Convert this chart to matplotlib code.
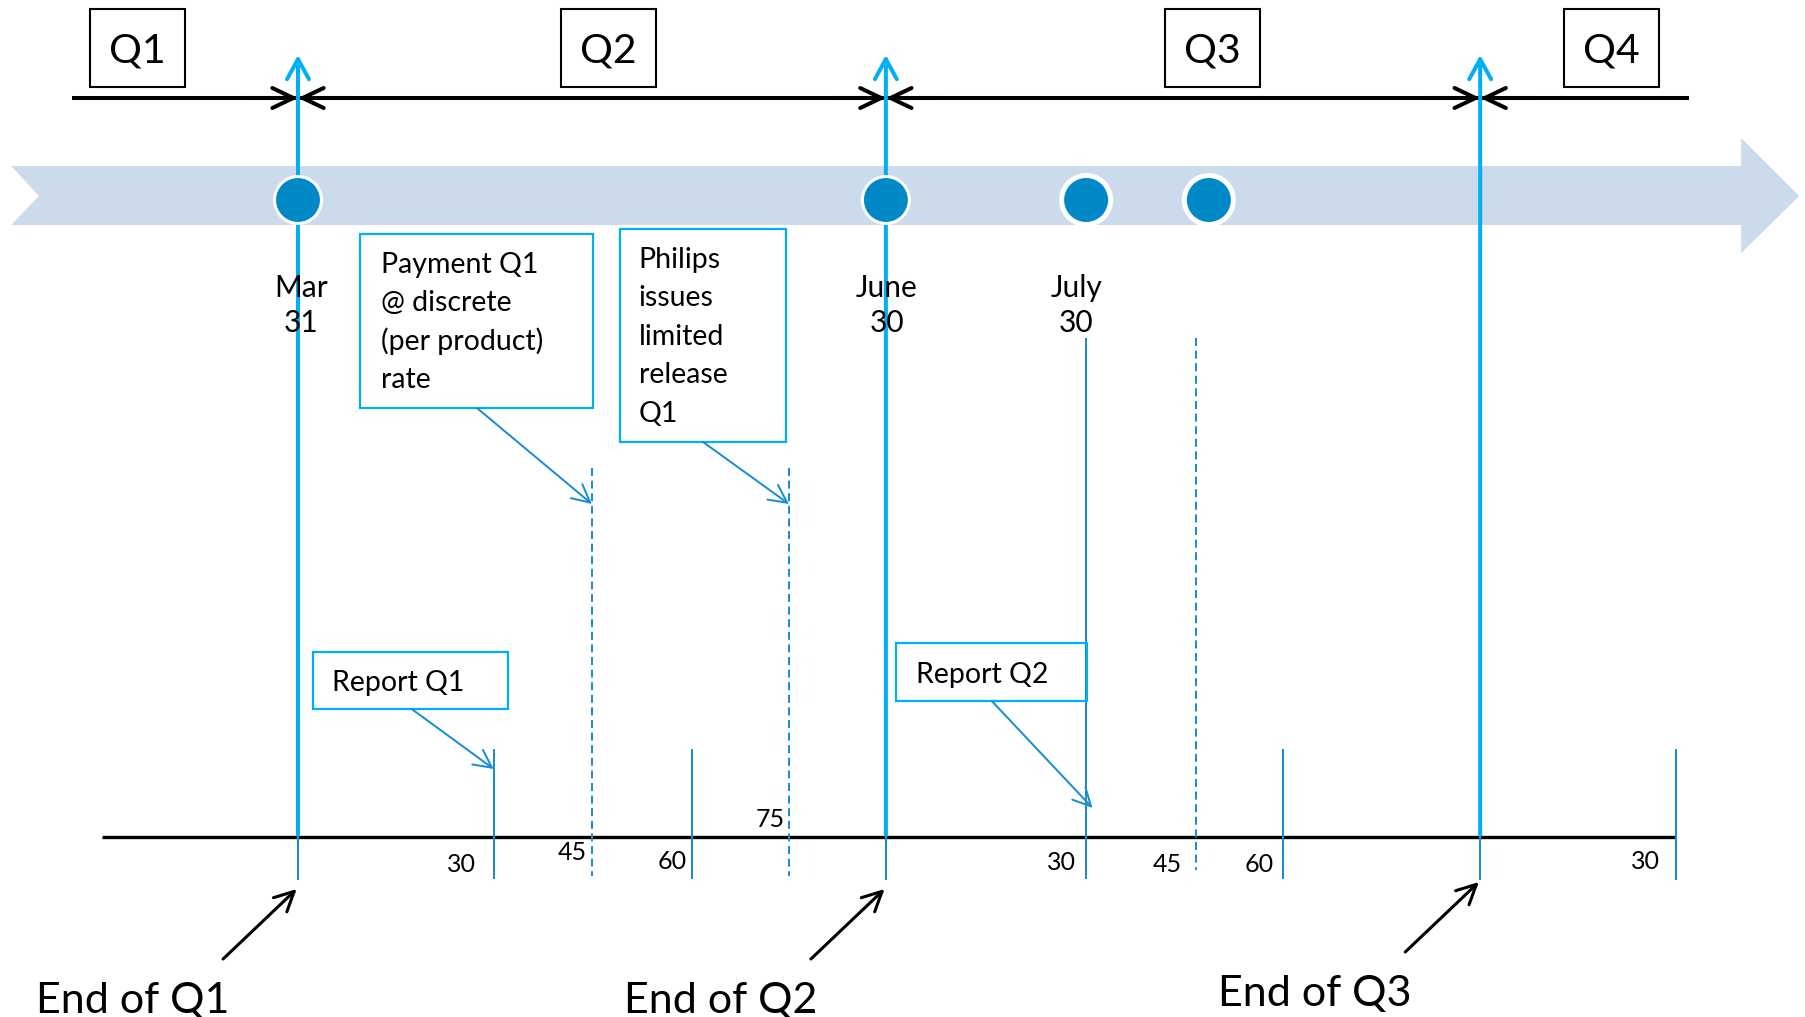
import matplotlib
matplotlib.use("Agg")
import matplotlib.pyplot as plt
from matplotlib.patches import Rectangle, Polygon, FancyArrowPatch

plt.rcParams['font.family'] = ['Lato', 'DejaVu Sans']

# x values are days counted from Mar 31, y is the vertical layout in pixels
quarters = ["Q1", "Q2", "Q3", "Q4"]
quarter_label_days = [-24.8, 48.1, 141.6, 203.3]
quarter_end_days = [0, 91, 183]
quarter_end_names = ["End of Q1", "End of Q2", "End of Q3"]

event_days = [0, 91, 122, 141]
event_labels = [["Mar", "31"], ["June", "30"], ["July", "30"], []]

tick_days = [30.3, 45.5, 61, 76, 122, 139, 152.5, 213.3]
tick_labels = ["30", "45", "60", "75", "30", "45", "60", "30"]
tick_dashed = [False, True, False, True, False, True, False, False]

callout_texts = [
    ["Payment Q1", "@ discrete", "(per product)", "rate"],
    ["Philips", "issues", "limited", "release", "Q1"],
    ["Report Q1"],
    ["Report Q2"],
]
callout_target_days = [45.5, 76, 30.3, 123]

# layout
BAND = "#CCDBEB"
DOT = "#0089C6"
BRIGHT = "#00B0F0"
THIN = "#1A8ECE"

tick_top = [749, 468, 749, 468, 338, 338, 749, 749]
tick_bottom = [879, 876, 879, 876, 879, 870, 879, 880]
tick_label_gap = [18, 5, 5, 4, 10, 14, 9, 16]
tick_label_base = [872, 860, 869, 827, 870, 872, 872, 869]

box_x = [(9.6, 45.7), (49.8, 75.5), (2.3, 32.5), (92.6, 122.1)]
box_y = [(234, 408), (229, 442), (652, 709), (643, 701)]
box_text_pad = [21, 19, 19, 20]
box_first_base = [273, 268, 691, 683]
box_arrow_from = [27.7, 62.7, 17.6, 107.4]
box_arrow_to_y = [504, 504, 769, 808]

event_label_dx = [3, 1, -10, 0]
event_size = [33.8, 33.8, 35.3, 35.3]
event_edge = [2.2, 2.2, 3.6, 3.6]
end_dy = [0, 0, -7]

fig = plt.figure(figsize=(18.06, 10.17), dpi=100)
ax = fig.add_axes([0, 0, 1, 1])
ax.set_xlim(-298 / 6.46, (1806 - 298) / 6.46)
ax.set_ylim(1017, 0)
ax.axis("off")


def arrow(x0, y0, x1, y1, color, lw, hl, hw, z=3):
    ax.add_patch(FancyArrowPatch((x0, y0), (x1, y1),
                                 arrowstyle="->,head_length=%g,head_width=%g" % (hl, hw),
                                 mutation_scale=1, color=color, lw=lw,
                                 shrinkA=0, shrinkB=0, zorder=z))


# band arrow
ax.add_patch(Polygon([(-44.4, 166), (223.4, 166), (223.4, 138), (232.4, 196),
                      (223.4, 253), (223.4, 225), (-44.4, 225), (-40.1, 196)],
                     closed=True, facecolor=BAND, edgecolor="none", zorder=1))

# quarter bar at the top
ax.plot([-35.0, 215.3], [98, 98], color="black", lw=2.9, solid_capstyle="butt", zorder=2)
for q in quarter_end_days:
    arrow(q - 8, 98, q, 98, "black", 2.9, 15.1, 7.2)
    arrow(q + 8, 98, q, 98, "black", 2.9, 15.1, 7.2)
for name, d in zip(quarters, quarter_label_days):
    ax.add_patch(Rectangle((d - 7.35, 9), 14.7, 78, facecolor="white",
                           edgecolor="black", lw=1.5, zorder=3))
    ax.text(d, 63, name, fontsize=29.5, ha="center", va="baseline", zorder=4)

# bottom day axis
ax.plot([-30.3, tick_days[-1]], [837, 837], color="black", lw=2.4,
        solid_capstyle="butt", zorder=2)

# quarter end markers
for q, name, dy in zip(quarter_end_days, quarter_end_names, end_dy):
    arrow(q, 835, q, 55, BRIGHT, 2.9, 14.4, 7.9, z=2.5)
    ax.vlines(q, 749, 880, color=THIN, lw=1.44, zorder=2.4)
    arrow(q - 11.6, 959 + dy, q - 0.2, 889 + dy, "black", 2.2, 14, 7)
    ax.text(q - 40.6, 1013 + dy, name, fontsize=31, ha="left", va="baseline")

# day ticks
for d, lab, dashed, top, bot, gap, base in zip(tick_days, tick_labels, tick_dashed,
                                               tick_top, tick_bottom,
                                               tick_label_gap, tick_label_base):
    ax.vlines(d, top, bot, color=THIN, lw=1.44, zorder=2.4,
              linestyles=(0, (4, 2.3)) if dashed else "solid")
    ax.annotate(lab, xy=(d, base), xytext=(-gap, 0), textcoords="offset pixels",
                fontsize=18, ha="right", va="baseline")

# events on the band
ax.scatter(event_days, [200] * len(event_days), s=[v ** 2 for v in event_size],
           color=DOT, edgecolors="white", linewidths=event_edge, zorder=3)
for d, lines, dx in zip(event_days, event_labels, event_label_dx):
    for i, line in enumerate(lines):
        ax.annotate(line, xy=(d, 297 + 35 * i), xytext=(dx, 0), textcoords="offset pixels",
                    fontsize=21.5, ha="center", va="baseline", zorder=4)

# callout boxes
for lines, (x0, x1), (y0, y1), pad, base, xa, tx, ty in zip(
        callout_texts, box_x, box_y, box_text_pad, box_first_base,
        box_arrow_from, callout_target_days, box_arrow_to_y):
    ax.add_patch(Rectangle((x0, y0), x1 - x0, y1 - y0, facecolor="none",
                           edgecolor=BRIGHT, lw=1.6, zorder=3))
    for i, line in enumerate(lines):
        ax.annotate(line, xy=(x0, base + 38.4 * i), xytext=(pad, 0),
                    textcoords="offset pixels", fontsize=20.5, ha="left", va="baseline")
    arrow(xa, y1, tx, ty, THIN, 1.44, 12.8, 6.5)

fig.savefig("out.png", dpi=100)
